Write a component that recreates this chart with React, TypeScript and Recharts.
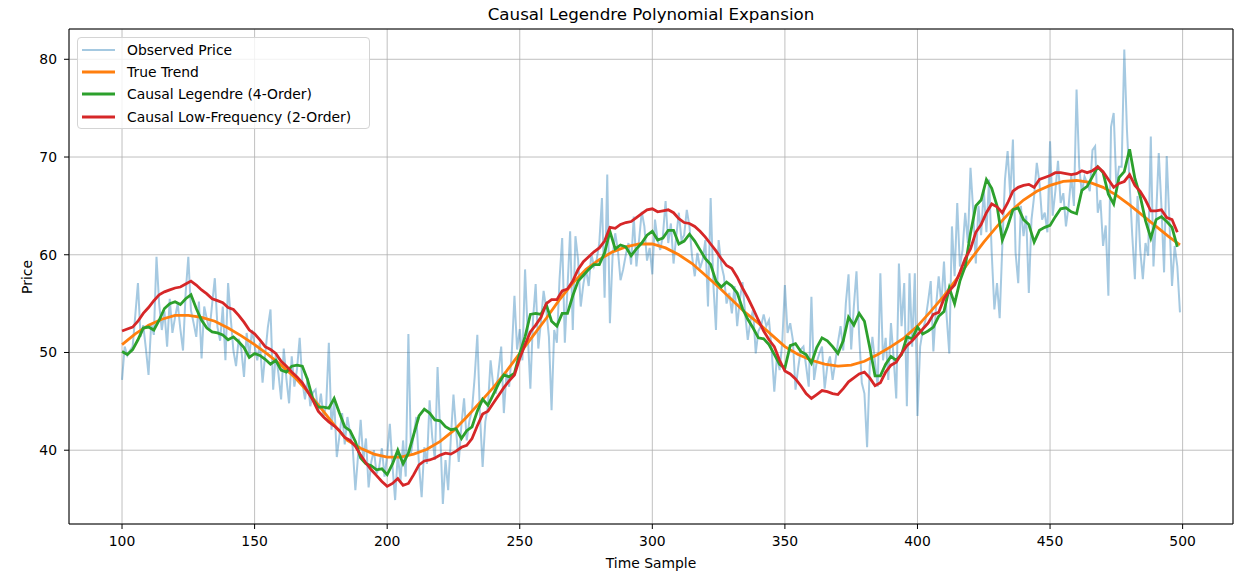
import { LineChart, Line, XAxis, YAxis, CartesianGrid, ReferenceLine } from 'recharts';

// sample index of the first point of every series
const FIRST_SAMPLE = 100;

// noisy observed price, one value per sample (100 .. 499)
const observedPrice = [
  47.2, 50.6, 49.7, 50.2, 50.6, 53.8, 57.1, 51.6, 52.8, 50.4,
  47.7, 53.0, 51.8, 59.8, 55.0, 52.3, 54.2, 50.6, 55.5, 52.0,
  53.6, 55.0, 52.4, 50.2, 56.1, 59.8, 54.3, 53.0, 51.6, 55.2,
  49.4, 54.7, 53.4, 52.3, 55.0, 57.6, 52.6, 51.2, 54.7, 49.2,
  57.1, 53.5, 50.2, 48.6, 51.4, 50.3, 47.5, 52.0, 49.6, 52.3,
  50.7, 49.2, 51.0, 46.9, 49.8, 52.6, 54.4, 46.2, 49.9, 47.8,
  45.2, 50.4, 47.3, 44.8, 49.6, 46.5, 48.3, 51.5, 47.0, 45.2,
  47.4, 44.5, 45.9, 46.2, 43.9, 45.8, 43.4, 44.6, 51.0, 42.1,
  45.2, 39.3, 41.5, 43.8, 40.6, 43.4, 41.8, 40.3, 35.9, 39.4,
  43.1, 39.0, 41.2, 36.2, 38.8, 40.0, 37.6, 38.3, 40.2, 37.3,
  39.5, 42.7, 38.4, 34.9, 39.7, 36.8, 41.0, 37.3, 51.9, 39.7,
  41.6, 43.4, 38.5, 35.2, 40.3, 38.6, 45.1, 41.3, 39.0, 48.5,
  41.8, 34.5, 39.0, 35.9, 41.2, 45.7, 42.0, 38.8, 42.6, 45.3,
  41.0, 43.0, 44.1, 47.5, 51.8, 43.6, 38.3, 42.9, 44.5, 49.2,
  46.6, 45.8, 48.1, 50.6, 43.8, 47.9, 46.5, 50.0, 55.8, 50.3,
  52.4, 49.2, 58.5, 52.0, 46.3, 53.4, 57.0, 50.4, 53.2, 56.3,
  54.4, 51.6, 44.1, 52.3, 51.0, 57.5, 61.7, 51.0, 56.6, 62.4,
  52.3, 61.9, 59.5, 54.7, 57.0, 58.5, 56.8, 60.1, 58.8, 59.5,
  61.2, 65.8, 55.6, 68.2, 53.0, 59.8, 62.2, 60.5, 57.4, 58.5,
  60.0, 61.2, 59.0, 63.9, 58.8, 61.5, 64.4, 62.9, 59.4, 60.7,
  58.0, 63.6, 61.5, 60.5, 62.0, 65.5, 61.2, 63.2, 59.1, 61.8,
  64.3, 61.5, 62.0, 64.6, 62.9, 59.8, 57.8, 60.2, 58.6, 59.5,
  61.5, 54.7, 65.8, 57.1, 52.3, 61.5, 59.0, 57.8, 55.0, 56.1,
  54.0, 56.8, 52.7, 55.4, 57.2, 54.0, 51.3, 53.2, 54.4, 49.9,
  52.2, 52.7, 53.9, 52.7, 53.3, 50.3, 46.0, 49.6, 48.2, 51.0,
  56.9, 52.0, 53.0, 51.3, 46.2, 48.4, 50.3, 50.6, 48.6, 46.5,
  55.7, 47.2, 49.0, 49.9, 50.6, 46.3, 48.6, 49.6, 47.2, 49.0,
  51.0, 52.7, 50.2, 55.1, 58.0, 50.3, 54.7, 58.3, 51.8, 46.9,
  45.8, 40.3, 48.6, 51.6, 49.0, 46.5, 58.1, 49.2, 51.5, 47.2,
  53.0, 49.5, 45.3, 59.1, 52.7, 57.1, 44.5, 58.1, 50.6, 58.1,
  43.5, 50.6, 52.3, 53.3, 55.2, 57.3, 50.1, 54.7, 57.8, 55.0,
  59.3, 53.7, 49.9, 62.9, 57.8, 65.3, 58.8, 60.5, 64.3, 61.2,
  68.9, 64.6, 59.1, 65.0, 62.0, 66.7, 62.3, 67.7, 60.2, 54.4,
  57.1, 53.5, 60.9, 67.7, 70.6, 66.0, 71.8, 60.2, 57.1, 65.0,
  61.9, 64.0, 56.1, 63.6, 66.0, 69.4, 67.4, 63.6, 64.3, 62.3,
  71.6, 64.0, 66.5, 69.6, 65.3, 66.3, 62.9, 65.0, 68.1, 65.0,
  76.9, 69.0, 66.3, 68.0, 67.3, 66.5, 70.7, 71.1, 64.3, 65.6,
  60.9, 63.0, 55.8, 73.1, 74.5, 67.0, 69.0, 69.0, 81.0, 72.8,
  67.3, 62.0, 57.5, 66.0, 60.5, 57.5, 61.2, 59.9, 72.1, 58.8,
  63.9, 70.4, 65.0, 58.2, 70.1, 63.6, 56.8, 60.9, 58.8, 54.1,
];

// true trend, read every 5 samples
const trendSamples = [
  100, 105, 110, 115, 120, 125, 130, 135, 140, 145,
  150, 155, 160, 165, 170, 175, 180, 185, 190, 195,
  200, 205, 210, 215, 220, 225, 230, 235, 240, 245,
  250, 255, 260, 265, 270, 275, 280, 285, 290, 295,
  300, 305, 310, 315, 320, 325, 330, 335, 340, 345,
  350, 355, 360, 365, 370, 375, 380, 385, 390, 395,
  400, 405, 410, 415, 420, 425, 430, 435, 440, 445,
  450, 455, 460, 465, 470, 475, 480, 485, 490, 495, 499,
];
const trueTrend = [
  50.8, 51.9, 52.8, 53.4, 53.8, 53.8, 53.6, 53.2, 52.5, 51.7,
  50.8, 49.8, 48.7, 47.5, 46.0, 44.3, 42.6, 41.0, 40.2, 39.6,
  39.3, 39.3, 39.6, 40.1, 40.9, 42.0, 43.4, 44.9, 46.4, 48.1,
  49.9, 51.7, 53.5, 55.4, 57.1, 58.5, 59.5, 60.3, 60.8, 61.1,
  61.1, 60.7, 60.0, 59.1, 57.9, 56.7, 55.4, 54.1, 53.0, 51.8,
  50.6, 49.8, 49.2, 48.8, 48.6, 48.7, 49.1, 49.8, 50.6, 51.5,
  52.7, 54.2, 55.8, 57.6, 59.5, 61.3, 62.9, 64.4, 65.6, 66.5,
  67.1, 67.5, 67.6, 67.4, 66.9, 66.1, 65.1, 64.0, 62.9, 61.8, 61.0,
];

// causal fits, read every 2 samples (100 .. 498)
const FIT_STEP = 2;
const legendre4 = [
  50.1, 49.8, 50.3, 51.3, 52.5, 52.6, 52.3, 53.3, 54.5, 55.0,
  55.2, 54.9, 55.5, 55.9, 54.5, 53.3, 52.5, 52.1, 52.0, 51.8,
  51.3, 51.6, 51.1, 50.5, 49.5, 49.9, 49.7, 49.3, 48.8, 49.2,
  48.2, 48.0, 48.6, 48.7, 48.6, 47.2, 45.2, 44.4, 44.4, 44.3,
  45.3, 43.8, 42.4, 42.0, 40.9, 39.2, 38.6, 38.4, 38.0, 38.1,
  37.5, 38.6, 40.0, 38.6, 39.7, 41.6, 43.5, 44.2, 43.8, 43.1,
  43.0, 42.4, 42.1, 42.2, 41.2, 42.0, 42.4, 44.0, 45.2, 44.6,
  45.7, 46.8, 47.7, 47.5, 47.9, 49.9, 51.6, 53.9, 54.0, 53.9,
  54.9, 53.2, 52.7, 54.0, 54.0, 55.8, 57.3, 57.9, 58.5, 59.0,
  59.0, 60.2, 62.4, 60.6, 61.0, 60.8, 59.9, 60.6, 61.2, 62.0,
  62.4, 61.5, 61.7, 62.5, 62.5, 61.1, 61.4, 62.1, 61.4, 60.5,
  59.6, 59.0, 57.3, 56.7, 57.2, 56.8, 56.1, 54.5, 53.4, 52.5,
  51.5, 51.4, 50.8, 49.8, 48.8, 48.4, 50.7, 50.9, 50.1, 49.8,
  48.9, 50.5, 51.5, 51.2, 50.6, 49.9, 51.2, 53.6, 52.8, 54.0,
  53.2, 50.5, 47.6, 47.6, 48.8, 49.6, 49.2, 49.8, 51.6, 51.4,
  52.6, 51.9, 52.2, 52.6, 53.7, 54.2, 56.6, 55.0, 57.3, 58.8,
  62.2, 65.0, 65.6, 67.7, 66.8, 65.0, 61.5, 62.9, 64.6, 64.8,
  63.6, 63.1, 61.3, 62.5, 62.8, 63.0, 63.9, 64.7, 64.8, 64.4,
  64.2, 66.6, 67.0, 68.0, 69.0, 68.4, 66.2, 65.2, 67.9, 68.5,
  70.8, 67.8, 66.0, 63.5, 61.7, 63.6, 63.9, 63.4, 62.8, 60.8,
];
const lowFreq2 = [
  52.2, 52.4, 52.6, 53.2, 54.0, 54.6, 55.3, 55.9, 56.2, 56.4,
  56.6, 56.7, 57.0, 57.3, 56.9, 56.4, 56.0, 55.5, 55.3, 55.1,
  54.6, 54.4, 53.8, 53.1, 52.3, 51.9, 51.3, 50.6, 50.3, 49.9,
  49.1, 48.6, 48.0, 47.5, 46.9, 46.0, 45.1, 44.0, 43.4, 42.9,
  42.5, 42.0, 41.3, 41.0, 40.4, 39.5, 38.7, 38.0, 37.4, 36.8,
  36.3, 36.6, 37.1, 36.4, 36.6, 37.5, 38.5, 38.9, 39.0, 39.2,
  39.5, 39.7, 39.6, 39.9, 40.3, 40.5, 41.2, 42.5, 43.7, 44.0,
  44.8, 45.6, 46.4, 47.1, 47.7, 49.4, 50.8, 52.1, 52.8, 53.6,
  55.0, 55.4, 55.4, 56.3, 56.5, 57.3, 58.5, 59.3, 59.8, 60.3,
  60.7, 61.4, 62.8, 62.7, 63.1, 63.3, 63.4, 63.8, 64.2, 64.6,
  64.7, 64.4, 64.5, 64.6, 64.3, 63.7, 63.3, 63.2, 62.9, 62.4,
  61.8, 61.1, 60.4, 59.6, 58.9, 58.6, 57.7, 56.6, 55.6, 54.5,
  53.3, 52.2, 51.3, 50.6, 49.2, 48.1, 47.8, 47.3, 46.6, 45.8,
  45.3, 45.7, 46.1, 46.0, 45.8, 45.7, 46.3, 47.0, 47.4, 47.8,
  48.0, 47.4, 46.6, 46.9, 48.0, 48.7, 49.0, 49.9, 50.7, 51.2,
  51.8, 52.4, 53.0, 53.9, 54.1, 55.5, 56.3, 56.9, 58.2, 59.6,
  60.6, 62.3, 63.1, 64.3, 65.2, 64.9, 64.3, 65.3, 66.5, 66.9,
  67.1, 67.2, 66.9, 67.7, 67.9, 68.1, 68.4, 68.4, 68.3, 68.2,
  68.3, 68.6, 68.4, 68.6, 69.0, 68.5, 67.7, 66.9, 67.3, 67.5,
  68.2, 67.1, 66.5, 65.6, 64.5, 64.5, 64.6, 63.8, 63.6, 62.3,
];

const xTicks = [100, 150, 200, 250, 300, 350, 400, 450, 500];
const yTicks = [40, 50, 60, 70, 80];
const xDomain = [80, 519];
const yDomain = [32.45, 83.1];

const legendItems = [
  { name: 'Observed Price', color: '#1f77b4', opacity: 0.4, width: 2 },
  { name: 'True Trend', color: '#ff7f0e', opacity: 1, width: 2.8 },
  { name: 'Causal Legendre (4-Order)', color: '#2ca02c', opacity: 1, width: 2.8 },
  { name: 'Causal Low-Frequency (2-Order)', color: '#d62728', opacity: 1, width: 2.8 },
];

const FONT = '"DejaVu Sans", sans-serif';

function Legend() {
  return (
    <div
      style={{
        position: 'absolute',
        left: 77,
        top: 37,
        width: 293,
        height: 92,
        background: 'rgba(255,255,255,0.8)',
        border: '1px solid #d4d4d4',
        borderRadius: 4,
        boxSizing: 'border-box',
      }}
    >
      {legendItems.map((it, i) => (
        <div
          key={it.name}
          style={{
            position: 'absolute',
            left: 0,
            top: 0.5 + i * 22.4,
            height: 22.4,
            display: 'flex',
            alignItems: 'center',
            fontSize: 13.9,
            color: '#000',
          }}
        >
          <svg width={40} height={10} style={{ marginLeft: 3 }}>
            <line x1={1} x2={34} y1={5} y2={5} stroke={it.color} strokeOpacity={it.opacity} strokeWidth={it.width} />
          </svg>
          <span style={{ marginLeft: 6, whiteSpace: 'nowrap' }}>{it.name}</span>
        </div>
      ))}
    </div>
  );
}

export default function App() {
  const observedData = observedPrice.map((v, i) => ({ t: FIRST_SAMPLE + i, v }));
  const trendData = trueTrend.map((v, i) => ({ t: trendSamples[i], v }));
  const legendreData = legendre4.map((v, i) => ({ t: FIRST_SAMPLE + i * FIT_STEP, v }));
  const lowFreqData = lowFreq2.map((v, i) => ({ t: FIRST_SAMPLE + i * FIT_STEP, v }));

  const tickStyle = { fill: '#000', fontSize: 13.9 };

  return (
    <div style={{ position: 'absolute', left: 0, top: 0, width: 1245, height: 574, background: '#fff', fontFamily: FONT }}>
      <LineChart width={1245} height={574} margin={{ top: 29, right: 12, bottom: 0, left: 0 }}>
        <CartesianGrid stroke="#b0b0b0" strokeWidth={0.8} />
        <XAxis
          dataKey="t"
          type="number"
          domain={xDomain}
          ticks={xTicks}
          allowDataOverflow
          height={50}
          tick={tickStyle}
          tickSize={5}
          tickMargin={7.5}
          stroke="#000"
        />
        <YAxis
          type="number"
          domain={yDomain}
          ticks={yTicks}
          allowDataOverflow
          width={69}
          tick={tickStyle}
          tickSize={5}
          tickMargin={7}
          stroke="#000"
        />
        {/* top and right spines */}
        <ReferenceLine y={yDomain[1]} stroke="#000" strokeWidth={1} ifOverflow="extendDomain" />
        <ReferenceLine x={xDomain[1]} stroke="#000" strokeWidth={1} ifOverflow="extendDomain" />
        <Line data={observedData} dataKey="v" type="linear" stroke="#1f77b4" strokeOpacity={0.4} strokeWidth={2} dot={false} isAnimationActive={false} />
        <Line data={trendData} dataKey="v" type="linear" stroke="#ff7f0e" strokeWidth={2.8} dot={false} isAnimationActive={false} />
        <Line data={legendreData} dataKey="v" type="linear" stroke="#2ca02c" strokeWidth={2.8} dot={false} isAnimationActive={false} />
        <Line data={lowFreqData} dataKey="v" type="linear" stroke="#d62728" strokeWidth={2.8} dot={false} isAnimationActive={false} />
      </LineChart>
      <div style={{ position: 'absolute', left: 69, width: 1164, top: 3, textAlign: 'center', fontSize: 16.7, lineHeight: '22px', color: '#000' }}>
        Causal Legendre Polynomial Expansion
      </div>
      <div style={{ position: 'absolute', left: 69, width: 1164, top: 554, textAlign: 'center', fontSize: 13.9, lineHeight: '18px', color: '#000' }}>
        Time Sample
      </div>
      <div
        style={{
          position: 'absolute',
          left: -23,
          top: 267.5,
          width: 100,
          height: 18,
          lineHeight: '18px',
          textAlign: 'center',
          fontSize: 13.9,
          color: '#000',
          transform: 'rotate(-90deg)',
        }}
      >
        Price
      </div>
      <Legend />
    </div>
  );
}
